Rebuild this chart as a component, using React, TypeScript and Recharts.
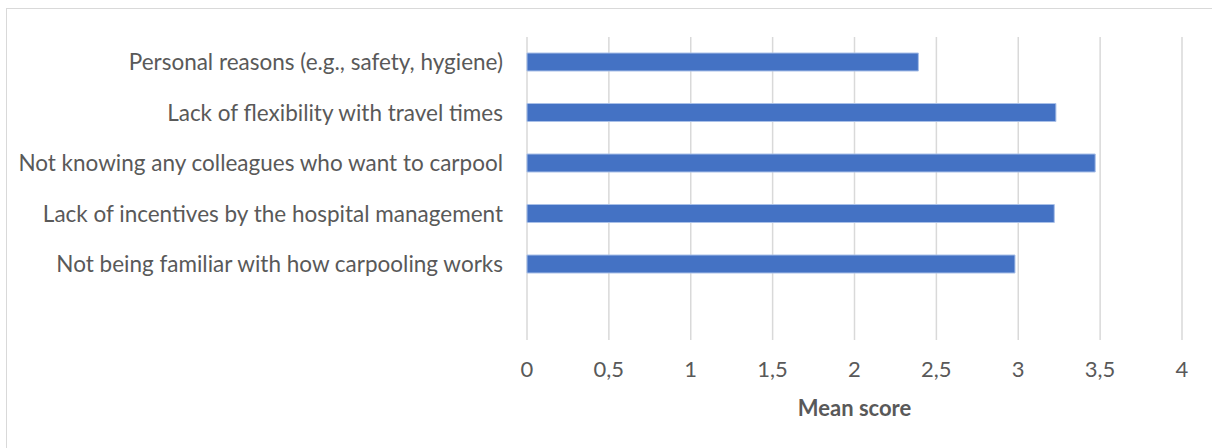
import { BarChart, Bar, XAxis, YAxis, CartesianGrid } from "recharts";

// Reasons listed top to bottom; the trailing blank slot leaves room under the last bar
const reasons = [
  "Personal reasons (e.g., safety, hygiene)",
  "Lack of flexibility with travel times",
  "Not knowing any colleagues who want to carpool",
  "Lack of incentives by the hospital management",
  "Not being familiar with how carpooling works",
  " ",
];
const meanScores: (number | null)[] = [2.39, 3.23, 3.47, 3.22, 2.98, null];
const scoreTicks = [0, 0.5, 1, 1.5, 2, 2.5, 3, 3.5, 4];

const data = reasons.map((reason, i) => ({ reason, score: meanScores[i] }));

const FONT = "Lato, 'Open Sans', sans-serif";
const TEXT = "#595959";

const App = () => {
  return (
    <div
      style={{
        position: "absolute",
        left: 0,
        top: 0,
        width: 1212,
        height: 448,
        background: "#fff",
        fontFamily: FONT,
      }}
    >
      <div
        style={{
          position: "absolute",
          left: 6,
          top: 8,
          right: 0,
          bottom: 0,
          borderTop: "1.5px solid #d9d9d9",
          borderLeft: "1.5px solid #d9d9d9",
        }}
      />
      <BarChart
        width={1212}
        height={448}
        data={data}
        layout="vertical"
        margin={{ top: 37, right: 30, bottom: 28, left: 0 }}
        style={{ position: "absolute", left: 0, top: 0 }}
      >
        <CartesianGrid horizontal={false} stroke="#d9d9d9" strokeWidth={1.5} />
        <XAxis
          type="number"
          domain={[0, 4]}
          ticks={scoreTicks}
          tickFormatter={(v: number) => String(v).replace(".", ",")}
          axisLine={false}
          tickLine={false}
          tickMargin={15}
          height={80}
          tick={{ fill: TEXT, fontSize: 22, fontFamily: FONT }}
          label={{
            value: "Mean score",
            position: "insideBottom",
            offset: 4,
            fill: TEXT,
            fontSize: 22,
            fontWeight: "bold",
            fontFamily: FONT,
          }}
        />
        <YAxis
          type="category"
          dataKey="reason"
          width={527}
          axisLine={false}
          tickLine={false}
          tickMargin={18}
          interval={0}
          tick={{ fill: TEXT, fontSize: 22.5, fontFamily: FONT }}
        />
        <Bar
          dataKey="score"
          fill="#4472C4"
          stroke="#a9c0e8"
          strokeWidth={1}
          barSize={18}
          isAnimationActive={false}
        />
      </BarChart>
    </div>
  );
};

export default App;
